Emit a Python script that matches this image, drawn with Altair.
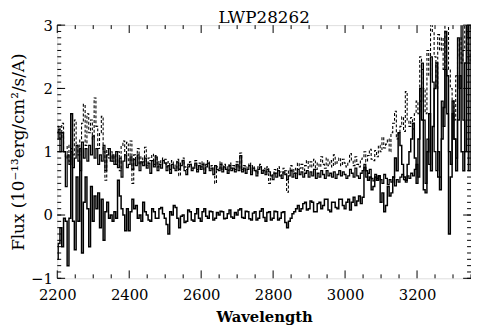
import altair as alt
import pandas as pd

# Wavelength grid (Angstrom), 5 A sampling
wavelength = list(range(2200, 3351, 5))

flux_upper = [
    # 2200-2395
    1.20, 1.35, 1.00, 1.30, 1.00, 0.45, 0.95, 0.80, 1.00, 0.75,
    0.90, 1.10, 0.85, 0.70, 1.15, 0.90, 1.05, 0.85, 1.10, 0.95,
    1.25, 0.90, 1.05, 0.80, 0.95, 0.85, 1.10, 0.70, 0.95, 1.05,
    0.85, 0.95, 0.80, 1.00, 0.75, 0.90, 0.60, 0.85, 0.95, 0.75,
    # 2400-2795
    0.80, 0.92, 0.72, 0.88, 0.78, 0.95, 0.70, 0.84, 0.78, 0.90,
    0.74, 0.82, 0.66, 0.86, 0.76, 0.92, 0.70, 0.80, 0.74, 0.86,
    0.82, 0.70, 0.78, 0.66, 0.80, 0.74, 0.70, 0.84, 0.72, 0.78,
    0.86, 0.70, 0.64, 0.76, 0.80, 0.70, 0.74, 0.82, 0.68, 0.78,
    0.72, 0.80, 0.66, 0.76, 0.82, 0.70, 0.74, 0.64, 0.78, 0.72,
    0.70, 0.80, 0.68, 0.76, 0.72, 0.66, 0.78, 0.70, 0.74, 0.68,
    0.80, 0.70, 0.94, 0.68, 0.74, 0.66, 0.72, 0.78, 0.64, 0.74,
    0.70, 0.62, 0.72, 0.76, 0.66, 0.70, 0.64, 0.72, 0.68, 0.62,
    # 2800-3195
    0.56, 0.66, 0.60, 0.70, 0.62, 0.58, 0.68, 0.64, 0.56, 0.62,
    0.70, 0.60, 0.66, 0.58, 0.72, 0.64, 0.68, 0.60, 0.66, 0.70,
    0.60, 0.68, 0.62, 0.72, 0.58, 0.66, 0.60, 0.70, 0.64, 0.58,
    0.70, 0.62, 0.66, 0.60, 0.68, 0.58, 0.64, 0.70, 0.62, 0.68,
    0.64, 0.58, 0.62, 0.72, 0.66, 0.60, 0.74, 0.62, 0.58, 0.66,
    0.70, 0.80, 0.60, 0.66, 0.72, 0.58, 0.54, 0.64, 0.58, 0.62,
    0.56, 0.50, 0.64, 0.58, 0.48, 0.56, 0.52, 0.60, 0.46, 0.56,
    0.52, 0.60, 0.64, 0.56, 0.52, 0.62, 0.58, 0.66, 0.62, 0.72,
    # 3200-3350
    0.80, 0.60, 1.80, 2.40, 1.50, 0.50, 1.20, 0.80, 2.50, 2.10,
    1.00, 0.70, 1.00, 0.60, 1.80, 1.40, 2.30, 1.60, 1.00, 0.80,
    1.60, 1.20, 0.90, 2.80, 2.00, 3.20, 1.50, 1.00, 3.20, 0.70,
    3.20,
]

flux_dotted = [
    # 2200-2395
    1.30, 1.40, 1.20, 1.45, 1.00, 0.90, 1.10, 0.85, 1.05, 0.95,
    1.50, 1.10, 0.95, 1.20, 1.45, 1.75, 1.10, 1.60, 1.30, 1.50,
    1.20, 1.85, 1.40, 1.05, 1.30, 1.56, 1.00, 0.55, 1.05, 0.90,
    1.00, 0.85, 0.95, 0.80, 1.00, 0.70, 1.10, 1.17, 0.90, 1.15,
    # 2400-2795
    0.85, 1.17, 0.50, 0.95, 0.88, 1.05, 0.80, 0.92, 0.84, 1.07,
    0.78, 0.90, 0.86, 0.96, 0.80, 0.94, 0.76, 0.86, 0.80, 0.90,
    0.88, 0.76, 0.84, 0.72, 0.86, 0.80, 0.74, 0.88, 0.62, 0.82,
    0.90, 0.76, 0.72, 0.80, 0.84, 0.74, 0.78, 0.86, 0.72, 0.82,
    0.76, 0.84, 0.70, 0.80, 0.86, 0.74, 0.78, 0.70, 0.50, 0.76,
    0.74, 0.84, 0.72, 0.80, 0.76, 0.70, 0.82, 0.74, 0.78, 0.72,
    0.84, 0.74, 0.98, 0.72, 0.78, 0.70, 0.76, 0.82, 0.68, 0.78,
    0.74, 0.66, 0.76, 0.80, 0.70, 0.74, 0.68, 0.76, 0.50, 0.66,
    # 2800-3195
    0.62, 0.72, 0.66, 0.76, 0.68, 0.62, 0.74, 0.70, 0.36, 0.70,
    0.78, 0.68, 0.74, 0.66, 0.82, 0.74, 0.80, 0.70, 0.78, 0.86,
    0.74, 0.84, 0.76, 0.88, 0.72, 0.82, 0.76, 0.92, 0.80, 0.74,
    0.90, 0.78, 0.86, 0.76, 0.95, 0.80, 0.84, 0.90, 0.78, 0.88,
    0.82, 0.76, 0.84, 0.97, 0.86, 0.78, 0.92, 0.80, 0.76, 0.88,
    0.90, 1.00, 0.84, 0.94, 1.04, 0.88, 0.86, 1.02, 0.92, 1.10,
    1.00, 1.23, 1.06, 1.12, 1.20, 1.00, 1.30, 1.45, 1.64, 1.20,
    1.30, 1.40, 1.55, 1.32, 1.95, 1.50, 1.40, 1.54, 1.36, 1.60,
    # 3200-3350
    1.80, 1.60, 2.50, 2.30, 2.00, 1.60, 2.60, 2.20, 3.10, 2.90,
    2.50, 2.00, 2.85, 2.60, 2.80, 2.30, 3.20, 3.20, 2.30, 2.00,
    1.80, 1.50, 2.20, 2.50, 2.80, 2.40, 2.60, 3.20, 3.20, 2.40,
    2.60,
]

flux_lower = [
    # 2200-2395
    -0.70, -0.45, -0.20, -0.50, -0.05, -0.10, -0.80, -0.05, 1.60, -0.10,
    -0.55, 0.60, -0.10, 1.05, -0.60, 0.20, 0.60, 0.10, -0.50, 0.45,
    -0.10, 0.30, 0.10, 0.35, -0.20, 0.25, -0.40, 0.05, 0.20, -0.05,
    0.00, -0.10, 0.05, -0.05, 0.55, 0.30, 0.10, 0.00, -0.25, 0.10,
    # 2400-2795
    -0.25, 0.05, 0.25, 0.10, 0.15, -0.05, 0.00, -0.10, 0.20, 0.05,
    0.00, -0.08, -0.10, 0.10, 0.05, -0.05, -0.05, 0.10, 0.12, 0.02,
    -0.05, -0.15, -0.30, 0.05, 0.00, 0.15, 0.12, -0.05, -0.20, -0.02,
    0.00, -0.12, -0.10, 0.08, 0.05, -0.08, -0.10, 0.02, 0.10, -0.05,
    -0.10, 0.05, 0.10, -0.02, -0.05, 0.06, 0.05, -0.08, -0.05, 0.04,
    0.00, 0.06, 0.05, -0.06, -0.05, 0.02, 0.08, -0.03, -0.05, 0.04,
    0.00, 0.08, 0.10, -0.04, -0.05, 0.06, 0.05, -0.06, -0.08, 0.03,
    0.05, -0.08, -0.05, 0.06, 0.10, -0.04, -0.10, 0.04, 0.05, -0.08,
    # 2800-3195
    -0.05, 0.06, 0.05, -0.08, -0.05, 0.04, 0.05, -0.12, -0.20, -0.10,
    -0.05, 0.02, 0.05, 0.10, 0.15, 0.06, 0.10, 0.18, 0.20, 0.08,
    0.10, 0.22, 0.20, 0.05, 0.05, 0.18, 0.20, 0.10, 0.15, 0.25,
    0.25, 0.08, 0.05, 0.20, 0.20, 0.12, 0.10, 0.25, 0.25, 0.15,
    0.10, 0.20, 0.25, 0.08, 0.20, 0.28, 0.15, 0.22, 0.30, 0.18,
    0.28, 0.75, 0.70, 0.55, 0.60, 0.40, 0.45, 0.60, 0.55, 0.62,
    0.20, 0.35, 0.05, 0.15, 0.45, 0.30, 0.35, 0.60, 0.90, 0.70,
    1.30, 1.10, 0.80, 0.60, 0.55, 0.80, 1.00, 1.20, 1.45, 0.90,
    # 3200-3350
    0.50, 1.20, 2.00, 1.50, 0.40, 0.35, 1.00, 1.60, 0.70, 1.40,
    2.00, 2.40, 0.60, 0.40, 1.20, 1.70, 2.90, 2.20, -0.30, 0.60,
    1.80, 1.20, 0.70, 1.50, 2.20, 1.00, 0.70, 2.40, 3.20, 2.80,
    2.80,
]

series_names = ["dotted", "upper", "lower"]
title_text = ["LWP28262"]
x_major = [2200, 2400, 2600, 2800, 3000, 3200]
x_minor = [v for v in range(2250, 3351, 50) if v not in x_major]
y_major = [-1, 0, 1, 2, 3]
y_minor = [round(-1 + 0.1 * i, 1) for i in range(41)]

W, H = 420, 257
FONT = "DejaVu Serif"

rows = []
for name, vals in zip(series_names, [flux_dotted, flux_upper, flux_lower]):
    for w, f in zip(wavelength, vals):
        rows.append({"wavelength": w, "flux": f, "series": name})
df = pd.DataFrame(rows)

xs = alt.Scale(domain=[2200, 3350], nice=False, zero=False)
ys = alt.Scale(domain=[-1, 3], nice=False, zero=False)

x_axis = alt.Axis(values=x_major, ticks=False, domain=False, grid=False,
                  labelFont=FONT, labelFontSize=15, labelPadding=10, labelColor="black",
                  labelFlush=False,
                  title="Wavelength", titleFont=FONT, titleFontSize=15, titleColor="black",
                  titleFontWeight="bold", titlePadding=7, format="d")
y_axis = alt.Axis(values=y_major, ticks=False, domain=False, grid=False,
                  labelFont=FONT, labelFontSize=15, labelPadding=5, labelColor="black",
                  title="Flux (10⁻¹³erg/cm²/s/A)", titleFont=FONT, titleColor="black",
                  titleFontSize=17, titleFontWeight="normal", titlePadding=3)

lines = alt.Chart(df).mark_line(interpolate="step", clip=True, color="black").encode(
    x=alt.X("wavelength:Q", scale=xs, axis=x_axis),
    y=alt.Y("flux:Q", scale=ys, axis=y_axis),
    strokeDash=alt.StrokeDash("series:N", scale=alt.Scale(domain=series_names,
                              range=[[3, 2], [1, 0], [1, 0]]), legend=None),
    strokeWidth=alt.StrokeWidth("series:N", scale=alt.Scale(domain=series_names,
                                range=[1.1, 1.5, 1.5]), legend=None),
    detail="series:N",
)

def xticks(vals, length):
    d = pd.DataFrame({"t": vals})
    bottom = alt.Chart(d).mark_rule(color="black").encode(
        x=alt.X("t:Q", scale=xs, axis=x_axis), y=alt.value(H), y2=alt.value(H - length))
    top = alt.Chart(d).mark_rule(color="black").encode(
        x=alt.X("t:Q", scale=xs, axis=x_axis), y=alt.value(0), y2=alt.value(length))
    return [bottom, top]

def yticks(vals, length):
    d = pd.DataFrame({"t": vals})
    left = alt.Chart(d).mark_rule(color="black").encode(
        y=alt.Y("t:Q", scale=ys, axis=y_axis), x=alt.value(0), x2=alt.value(length))
    right = alt.Chart(d).mark_rule(color="black").encode(
        y=alt.Y("t:Q", scale=ys, axis=y_axis), x=alt.value(W - length), x2=alt.value(W))
    return [left, right]

title = alt.Chart(pd.DataFrame({"t": title_text})).mark_text(
    font=FONT, fontSize=17, baseline="alphabetic", align="center", color="black"
).encode(text="t:N", x=alt.value(W / 2), y=alt.value(-2))

chart = alt.layer(
    lines,
    *xticks(x_major, 8), *xticks(x_minor, 4),
    *yticks(y_major, 8), *yticks(y_minor, 4),
    title,
).properties(
    width=W, height=H,
    autosize=alt.AutoSizeParams(type="none"),
    padding={"left": 50, "top": 15, "right": 0, "bottom": 45},
).configure_view(stroke="black", strokeWidth=1).configure(background="white")

chart.save("out.html", embed_options={"renderer": "svg", "actions": False})
